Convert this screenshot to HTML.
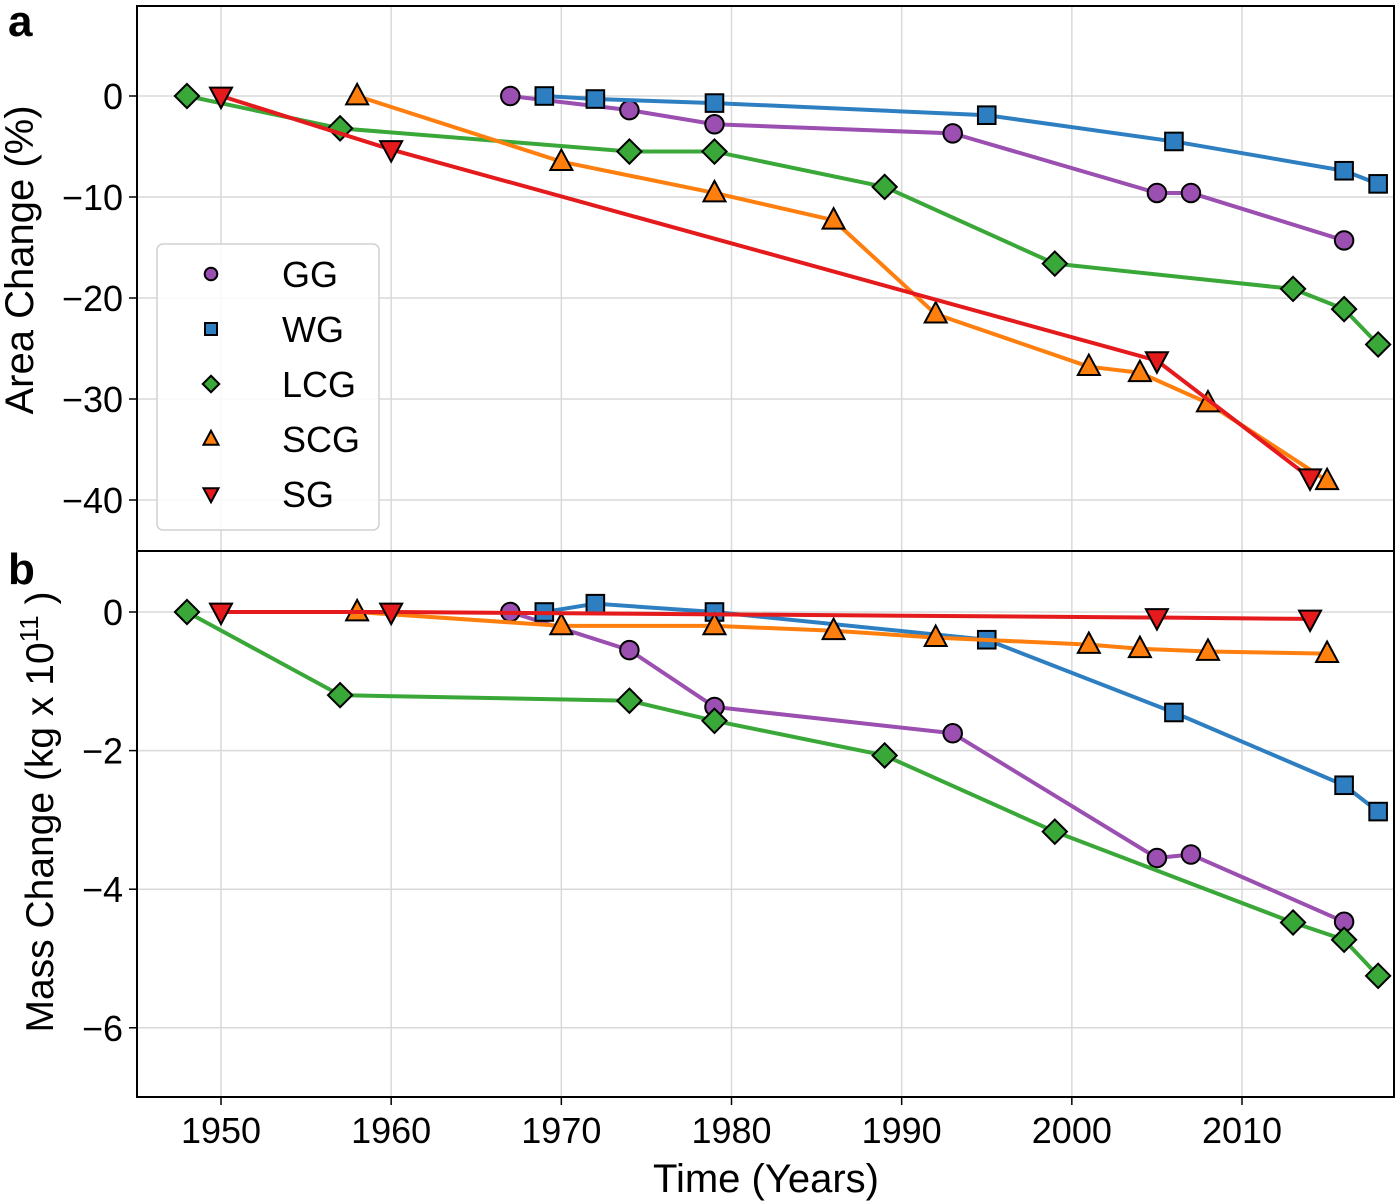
<!DOCTYPE html>
<html><head><meta charset="utf-8"><style>
html,body{margin:0;padding:0;background:#fff;}
svg{display:block;font-family:"Liberation Sans",Arial,sans-serif;}
</style></head>
<body>
<svg id="chart" width="1400" height="1204" viewBox="0 0 1400 1204" xmlns="http://www.w3.org/2000/svg">
<g id="grid"></g>
<g id="series"></g>
<g id="frame"></g>
<g id="legend"></g>
</svg>
<script>
const xTicks = [1950,1960,1970,1980,1990,2000,2010];
const aTicks = [0,-10,-20,-30,-40];
const bTicks = [0,-2,-4,-6];
const names = ["GG","WG","LCG","SCG","SG"];
const colors = ["#9b4fb0","#2e7fc1","#3aa838","#ff7f0e","#e41a1c"];
const markers = ["circle","square","diamond","up","down"];

const ggYears = [1967,1974,1979,1993,2005,2007,2016];
const wgYears = [1969,1972,1979,1995,2006,2016,2018];
const lcgYears = [1948,1957,1974,1979,1989,1999,2013,2016,2018];
const scgYears = [1958,1970,1979,1986,1992,2001,2004,2008,2015];
const sgYears = [1950,1960,2005,2014];

const ggArea = [0,-1.4,-2.8,-3.7,-9.6,-9.6,-14.3];
const wgArea = [0,-0.3,-0.7,-1.9,-4.5,-7.4,-8.7];
const lcgArea = [0,-3.2,-5.5,-5.5,-9,-16.6,-19.1,-21.1,-24.6];
const scgArea = [0,-6.5,-9.6,-12.3,-21.6,-26.8,-27.4,-30.4,-38.1];
const sgArea = [0,-5.3,-26.2,-37.8];

const ggMass = [0,-0.55,-1.37,-1.75,-3.55,-3.5,-4.47];
const wgMass = [0,0.12,0,-0.4,-1.45,-2.5,-2.88];
const lcgMass = [0,-1.2,-1.28,-1.57,-2.07,-3.17,-4.48,-4.73,-5.25];
const scgMass = [0,-0.2,-0.2,-0.27,-0.37,-0.47,-0.53,-0.57,-0.6];
const sgMass = [0,0,-0.08,-0.1];

const L=137,R=1394,TA=6,BA=551,TB=551,BB=1097;
function xs(yr){return 221+(yr-1950)*(1242-221)/60;}
function ya(v){return 96+(-v)*10.1;}
function yb(v){return 612+(-v)*69.3;}
const NS="http://www.w3.org/2000/svg";
function mk(tag,attrs,parent){const e=document.createElementNS(NS,tag);for(const k in attrs)e.setAttribute(k,attrs[k]);parent.appendChild(e);return e;}
const grid=document.getElementById('grid'),ser=document.getElementById('series'),frame=document.getElementById('frame'),leg=document.getElementById('legend');

xTicks.forEach(t=>{const x=xs(t);
 let g=mk('line',{x1:x,x2:x,y1:TA,y2:BB,stroke:'#d9d9d9','stroke-width':1.5},grid);
 
 let tk=mk('line',{x1:x,x2:x,y1:BB,y2:BB+8,stroke:'#000','stroke-width':1.5},frame);
 
 let tx=mk('text',{x:x,y:BB+46,'text-anchor':'middle','font-size':36},frame);tx.textContent=t;
 
});
function yAxis(ticks,f){ticks.forEach(t=>{const y=f(t);
 let g=mk('line',{x1:L,x2:R,y1:y,y2:y,stroke:'#d9d9d9','stroke-width':1.5},grid);
 
 let tk=mk('line',{x1:L-8,x2:L,y1:y,y2:y,stroke:'#000','stroke-width':1.5},frame);
 
 let tx=mk('text',{x:L-14,y:y+13,'text-anchor':'end','font-size':36},frame);tx.textContent=(t<0?'\u2212'+(-t):t);
 
});}
yAxis(aTicks,ya);yAxis(bTicks,yb);

function marker(type,x,y,s,col,parent){let e;
 if(type==='circle')e=mk('circle',{cx:x,cy:y,r:s*0.42},parent);
 else if(type==='square')e=mk('rect',{x:x-s*0.4,y:y-s*0.4,width:s*0.8,height:s*0.8},parent);
 else if(type==='diamond')e=mk('polygon',{points:`${x},${y-s*0.55} ${x+s*0.55},${y} ${x},${y+s*0.55} ${x-s*0.55},${y}`},parent);
 else if(type==='up')e=mk('polygon',{points:`${x},${y-s*0.55} ${x+s*0.5},${y+s*0.38} ${x-s*0.5},${y+s*0.38}`},parent);
 else e=mk('polygon',{points:`${x},${y+s*0.55} ${x+s*0.5},${y-s*0.38} ${x-s*0.5},${y-s*0.38}`},parent);
 e.setAttribute('fill',col);e.setAttribute('stroke','#000');e.setAttribute('stroke-width',2);return e;}

const years=[ggYears,wgYears,lcgYears,scgYears,sgYears];
const areas=[ggArea,wgArea,lcgArea,scgArea,sgArea];
const masses=[ggMass,wgMass,lcgMass,scgMass,sgMass];
function drawPanel(vals,f,label){for(let i=0;i<5;i++){
 const g=mk('g',{},ser);
 const pts=years[i].map((yr,j)=>xs(yr)+','+f(vals[i][j])).join(' ');
 const pl=mk('polyline',{points:pts,fill:'none',stroke:colors[i],'stroke-width':4,'stroke-linejoin':'round'},g);
 
 years[i].forEach((yr,j)=>{const m=marker(markers[i],xs(yr),f(vals[i][j]),22,colors[i],g);
  });
}}
drawPanel(areas,ya,'area');drawPanel(masses,yb,'mass');

let fr=mk('rect',{x:L,y:TA,width:R-L,height:BB-TA,fill:'none',stroke:'#000','stroke-width':2},frame);

let dv=mk('line',{x1:L,x2:R,y1:BA,y2:BA,stroke:'#000','stroke-width':2},frame);


// legend
let lb=mk('rect',{x:157,y:244,width:222,height:286,rx:6,fill:'#fff','fill-opacity':0.85,stroke:'#d0d0d0','stroke-width':1.5},leg);

names.forEach((n,i)=>{const y=274+i*55;
 const g=mk('g',{},leg);
 marker(markers[i],211,y,15,colors[i],g);
 const t=mk('text',{x:282,y:y+13,'font-size':36},g);t.textContent=n;
});

function txt(attrs,s,name){const t=mk('text',attrs,frame);t.textContent=s;return t;}
txt({x:8,y:36,'font-size':44,'font-weight':'bold'},'a','panel-a-label');
txt({x:8,y:584,'font-size':44,'font-weight':'bold'},'b','panel-b-label');
txt({x:766,y:1192,'text-anchor':'middle','font-size':40},'Time (Years)','x-axis-title');
txt({x:0,y:0,'text-anchor':'middle','font-size':40,transform:'translate(33,260) rotate(-90)'},'Area Change (%)','area-y-axis-title');
const mt=mk('text',{x:0,y:0,'text-anchor':'middle','font-size':39,transform:'translate(53,812) rotate(-90)'},frame);

mt.innerHTML='Mass Change (kg x 10<tspan font-size="26" dy="-15">11</tspan><tspan dy="15"> )</tspan>';
</script>
</body></html>
